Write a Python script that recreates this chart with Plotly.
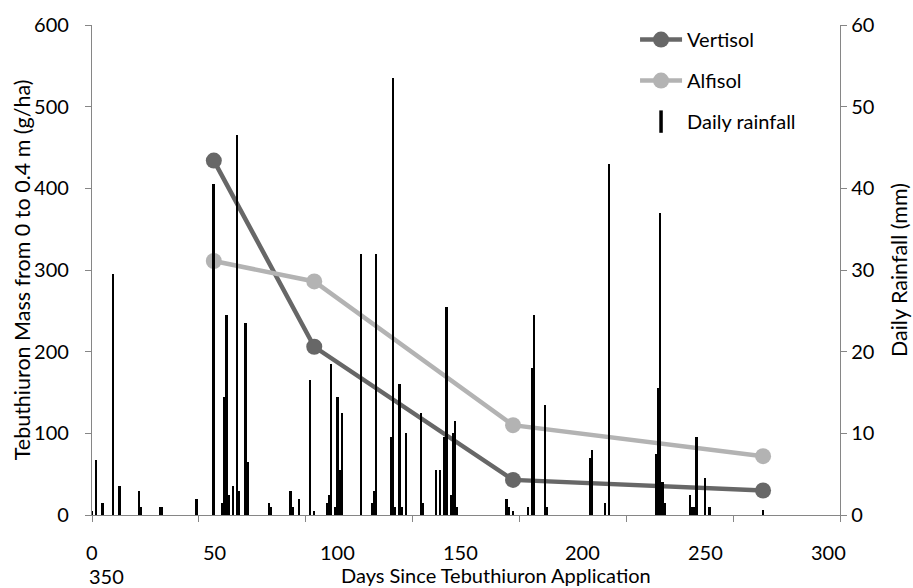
import plotly.graph_objects as go

# ---- data ----
soil_days = [57, 104, 197, 314]
vertisol_mass = [434, 206, 43, 30]
alfisol_mass = [311, 286, 110, 72]

rain_days = [0, 2, 5, 10, 13, 22, 23, 32, 33, 49, 57, 61, 62, 63, 64, 66, 68, 69, 72, 73,
             83, 84, 93, 94, 97, 102, 104, 110, 111, 112, 114, 115, 116, 117,
             126, 131, 132, 133, 140, 141, 142, 144, 145, 147, 154, 155, 161, 163,
             165, 166, 168, 169, 170, 171, 194, 195, 197, 204, 206, 207, 212, 213,
             233, 234, 240, 242, 264, 265, 266, 267, 268, 280, 281, 282, 283, 287, 289, 314]
rain_mm = [0.5, 6.7, 1.5, 29.5, 3.5, 3.0, 1.0, 1.0, 1.0, 2.0, 40.5, 1.5, 14.5, 24.5, 2.5, 3.5, 46.5, 3.0, 23.5, 6.5,
           1.5, 1.0, 3.0, 1.0, 2.0, 16.5, 0.5, 1.5, 2.5, 18.5, 1.0, 14.5, 5.5, 12.5,
           32.0, 1.5, 3.0, 32.0, 9.5, 53.5, 1.0, 16.0, 1.0, 10.0, 12.5, 1.5, 5.5, 5.5,
           9.5, 25.5, 2.5, 10.0, 11.5, 1.0, 2.0, 1.0, 0.5, 1.0, 18.0, 24.5, 13.5, 1.0,
           7.0, 8.0, 1.5, 43.0, 7.5, 15.5, 37.0, 4.0, 1.5, 2.5, 1.0, 1.0, 9.5, 4.5, 1.0, 0.6]

x_tick_values = [0, 50, 100, 150, 200, 250, 300, 350]
x_tick_labels = ["0", "50", "100", "150", "200", "250", "300", "350"]
x_label_spacing = 57.4  # label text placement (as drawn in the original)

FONT = "Lato, 'Open Sans', sans-serif"
TICK_SIZE = 20
TITLE_SIZE = 21.5
AX = "#868686"
DARK = "#676767"
LIGHT = "#b3b3b3"

fig = go.Figure()

fig.add_trace(go.Scatter(x=soil_days, y=vertisol_mass, name="Vertisol", mode="lines+markers",
                         line=dict(color=DARK, width=4.5), marker=dict(size=16, color=DARK),
                         legendgroup="a"))
fig.add_trace(go.Scatter(x=soil_days, y=alfisol_mass, name="Alfisol", mode="lines+markers",
                         line=dict(color=LIGHT, width=4.5), marker=dict(size=16, color=LIGHT),
                         legendgroup="b"))
fig.add_trace(go.Bar(x=rain_days, y=rain_mm, yaxis="y2", width=0.85, name="Daily rainfall",
                     marker=dict(color="black", line=dict(width=0)), showlegend=False))
# legend proxy for the rainfall bars (thin vertical bar symbol)
fig.add_trace(go.Scatter(x=[None], y=[None], yaxis="y2", name="Daily rainfall", mode="markers",
                         marker=dict(symbol="line-ns", size=17, color="black",
                                     line=dict(width=3.5, color="black")),
                         legendgroup="c"))

annotations = []
for i, lab in enumerate(x_tick_labels[:-1]):
    annotations.append(dict(x=i * x_label_spacing, y=0, xref="x", yref="paper", text=lab,
                            showarrow=False, xanchor="center", yanchor="middle", yshift=-36.5,
                            font=dict(size=TICK_SIZE, color="#000", family=FONT)))
annotations.append(dict(x=0, y=0, xref="x", yref="paper", text=x_tick_labels[-1],
                        showarrow=False, xanchor="left", yanchor="middle", yshift=-61, xshift=-5,
                        font=dict(size=TICK_SIZE, color="#000", family=FONT)))
annotations.append(dict(x=0.5407, y=0, xref="paper", yref="paper",
                        text="Days Since Tebuthiuron Application",
                        showarrow=False, xanchor="center", yanchor="middle", yshift=-59.5,
                        font=dict(size=TICK_SIZE, color="#000", family=FONT)))
annotations.append(dict(x=-0.0932, y=0.50, xref="paper", yref="paper",
                        text="Tebuthiuron Mass from 0 to 0.4 m (g/ha)", textangle=-90,
                        showarrow=False, xanchor="center", yanchor="middle",
                        font=dict(size=TITLE_SIZE, color="#000", family=FONT)))
annotations.append(dict(x=1.079, y=0.50, xref="paper", yref="paper",
                        text="Daily Rainfall (mm)", textangle=-90,
                        showarrow=False, xanchor="center", yanchor="middle",
                        font=dict(size=TITLE_SIZE, color="#000", family=FONT)))

fig.update_layout(
    width=913, height=588,
    margin=dict(l=92, r=73, t=23, b=73),
    paper_bgcolor="white", plot_bgcolor="white",
    font=dict(family=FONT, size=TICK_SIZE, color="#000"),
    showlegend=True,
    legend=dict(x=0.726, y=1.01, xanchor="left", yanchor="top", bgcolor="rgba(0,0,0,0)",
                traceorder="grouped", tracegroupgap=12, itemwidth=42,
                font=dict(size=TICK_SIZE, family=FONT, color="#000")),
    xaxis=dict(range=[0, 350], tickvals=x_tick_values, showticklabels=False,
               ticks="outside", ticklen=6, tickcolor=AX, tickwidth=1.3,
               showline=True, linecolor=AX, linewidth=1.3, showgrid=False, zeroline=False),
    yaxis=dict(range=[0, 600], dtick=100, ticks="outside", ticklen=6, tickcolor=AX, tickwidth=1.3,
               showline=True, linecolor=AX, linewidth=1.3, showgrid=False, zeroline=False,
               ticklabelstandoff=12, tickfont=dict(size=TICK_SIZE, family=FONT)),
    yaxis2=dict(range=[0, 60], dtick=10, overlaying="y", side="right", ticks="outside", ticklen=6,
                tickcolor=AX, tickwidth=1.3, showline=True, linecolor=AX, linewidth=1.3,
                showgrid=False, zeroline=False, tickfont=dict(size=TICK_SIZE, family=FONT)),
    annotations=annotations,
    bargap=0,
)

fig.write_html("out.html")
